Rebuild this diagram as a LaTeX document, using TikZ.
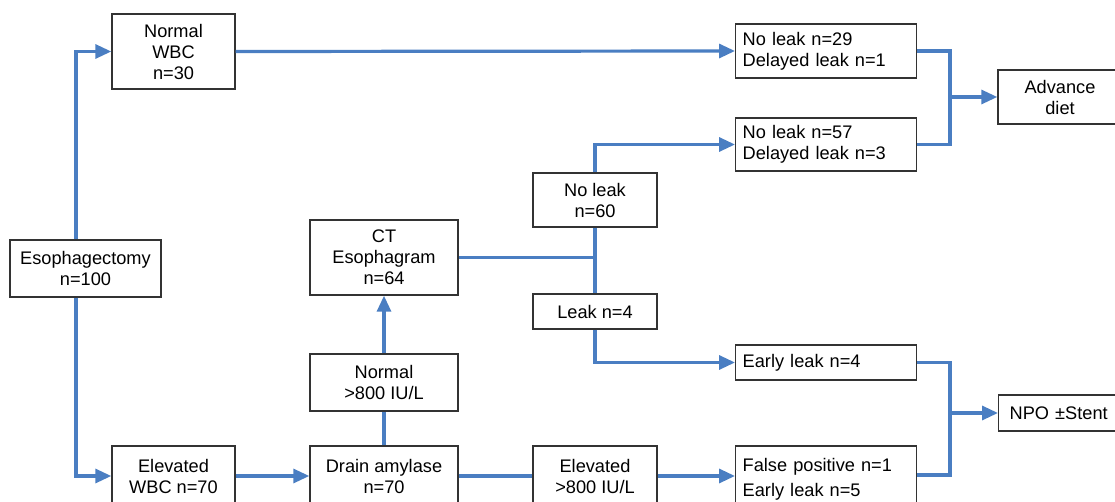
\documentclass[tikz,border=0pt]{standalone}
\usepackage{fontspec}
\setmainfont{Liberation Sans}
\usetikzlibrary{arrows.meta,calc}
\definecolor{flowblue}{HTML}{4A7EC2}
\definecolor{boxgray}{HTML}{333333}
\begin{document}
\begin{tikzpicture}[x=1pt,y=-1pt,
  box/.style={draw=boxgray,line width=1.4pt,fill=white,align=center,inner sep=2pt,
    font=\fontsize{18.2}{21}\selectfont},
  lbox/.style={box,align=left,anchor=west,text width=#1,inner xsep=7pt},
  link/.style={draw=flowblue,line width=3.2pt},
  conn/.style={link,-{Triangle[length=16pt,width=14pt]}},
]
\useasboundingbox (0,0) rectangle (1115,502);
\clip (0,0) rectangle (1115,502);
\node[box,minimum width=151pt,minimum height=57pt] (esoph) at (85.5,268.5) {Esophagectomy\\n=100};
\node[box,minimum width=123pt,minimum height=75pt] (nwbc) at (173.5,51.5) {Normal\\WBC\\n=30};
\node[box,minimum width=123pt,minimum height=60pt] (ewbc) at (173.5,476) {Elevated\\WBC n=70};
\node[box,minimum width=148pt,minimum height=60pt] (drain) at (384,476) {Drain amylase\\n=70};
\node[box,minimum width=148pt,minimum height=57pt] (normamy) at (384,382.5) {Normal\\>800 IU/L};
\node[box,minimum width=148pt,minimum height=75pt] (ct) at (384,257.5) {CT\\Esophagram\\n=64};
\node[box,minimum width=124pt,minimum height=54pt] (nl60) at (595,200) {No leak\\n=60};
\node[box,minimum width=124pt,minimum height=35pt] (leak4) at (595,311.5) {Leak n=4};
\node[box,minimum width=124pt,minimum height=60pt] (elevamy) at (595,476) {Elevated\\>800 IU/L};
\node[lbox=167pt,minimum height=54pt] (nl29) at (735,51) {No leak n=29\\Delayed leak n=1};
\node[lbox=167pt,minimum height=53pt] (nl57) at (735,144.5) {No leak n=57\\Delayed leak n=3};
\node[lbox=167pt,minimum height=35pt] (el4) at (735,362.5) {Early leak n=4};
\node[lbox=167pt,minimum height=66pt,font=\fontsize{18.2}{25}\selectfont] (fp) at (735,479) {False positive n=1\\Early leak n=5};
\node[box,minimum width=124pt,minimum height=54pt] (adv) at (1060,97) {Advance\\diet};
\node[box,minimum width=124pt,minimum height=36pt,anchor=west,align=left,inner xsep=11pt,text width=102pt] (npo) at (998,413) {NPO ±Stent};
\coordinate (m1) at (950,97);
\coordinate (m2) at (950,413);
\draw[conn] (76,0 |- esoph.north) |- (nwbc.west);
\draw[conn] (76,0 |- esoph.south) |- (ewbc.west);
\draw[conn] (ewbc.east) -- (drain.west);
\draw[link] (drain.east) -- (elevamy.west);
\draw[conn] (elevamy.east) -- (elevamy.east -| fp.west);
\draw[link] (drain.north) -- (normamy.south);
\draw[conn] (normamy.north) -- (ct.south);
\draw[link] (ct.east) -- (ct.east -| nl60.south);
\draw[link] (nl60.south) -- (leak4.north);
\draw[conn] (nl60.north) |- (nl57.west);
\draw[conn] (leak4.south) |- (el4.west);
\draw[conn] (nwbc.east) -- (nl29.west);
\draw[link] (nl29.east) -| (m1);
\draw[link] (nl57.east) -| (m1);
\draw[conn] (m1) -- (adv.west);
\draw[link] (el4.east) -| (m2);
\draw[link] ($(fp.east)+(0,-4)$) -| (m2);
\draw[conn] (m2) -- (npo.west);
\end{tikzpicture}
\end{document}
